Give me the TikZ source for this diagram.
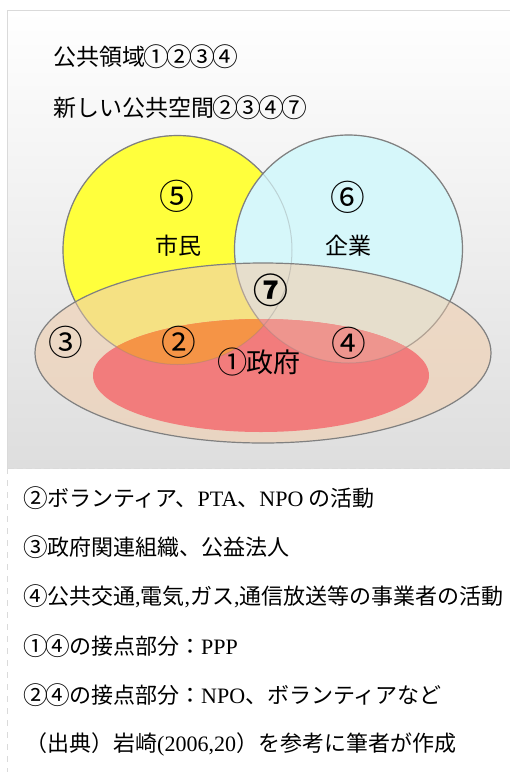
\documentclass[tikz,border=0pt]{standalone}
\usepackage{fontspec}
\setmainfont{Noto Sans CJK JP}
\newcommand{\cnone}[1]{\makebox[1em]{\raisebox{-0.05em}{\scalebox{1.12}{#1}}}}
\newcommand{\cn}[1]{\cnlist#1\relax}
\def\cnlist#1{\ifx#1\relax\else\cnone{#1}\expandafter\cnlist\fi}
\newfontfamily\latinserif{Liberation Serif}
\definecolor{yellowc}{HTML}{FFFF3C}
\definecolor{cyanc}{HTML}{D6F7FA}
\definecolor{tanc}{HTML}{F0CFB0}
\definecolor{redc}{HTML}{F27C7C}
\definecolor{orangec}{HTML}{F59446}
\definecolor{pinkc}{HTML}{EE958E}
\definecolor{edgec}{HTML}{808080}
\definecolor{framec}{HTML}{DADADA}
\begin{document}
\begin{tikzpicture}[x=1pt,y=-1pt,
  title/.style={anchor=west,inner sep=0pt,font=\fontsize{23}{26}\selectfont},
  biglab/.style={inner sep=0pt,font=\fontsize{31}{33}\selectfont},
  midlab/.style={inner sep=0pt,font=\fontsize{23}{26}\selectfont},
  note/.style={anchor=west,inner sep=0pt,font=\fontsize{22}{25}\selectfont},
  setedge/.style={draw=edgec,line width=1.2pt}]
\useasboundingbox (0,0) rectangle (510,772);
% panel background
\shade[top color=white,bottom color=black!13] (7.5,10) rectangle (510,468);
\draw[framec,line width=1pt] (7.5,468) -- (7.5,10) -- (510,10);
\draw[framec,line width=1pt,dash pattern=on 6pt off 3pt] (7.5,468) -- (510,468);
\draw[framec,line width=1pt,dash pattern=on 6pt off 6pt] (7.5,468) -- (7.5,772);
% sets
\coordinate (yc) at (177.5,250);
\coordinate (cc) at (348.5,249);
\coordinate (oc) at (263,353);
\coordinate (rc) at (261,375.5);
\filldraw[fill=yellowc,setedge] (yc) circle (114.5);
\filldraw[fill=cyanc,setedge] (cc) circle (114);
\fill[tanc,fill opacity=0.62] (oc) ellipse [x radius=228,y radius=90];
\fill[redc] (rc) ellipse [x radius=168,y radius=56.5];
\begin{scope}
  \clip (yc) circle (114.5);
  \fill[orangec] (rc) ellipse [x radius=168,y radius=56.5];
\end{scope}
\begin{scope}
  \clip (cc) circle (114);
  \fill[pinkc] (rc) ellipse [x radius=168,y radius=56.5];
\end{scope}
\draw[edgec,draw opacity=0.3,line width=1pt] (yc) circle (114.5);
\draw[edgec,draw opacity=0.3,line width=1pt] (cc) circle (114);
\draw[setedge] (oc) ellipse [x radius=228,y radius=90];
% titles
\node[title] (t1) at (53,57) {公共領域\cn{①②③④}};
\node[title] (t2) at (53,108) {新しい公共空間\cn{②③④⑦}};
% labels
\node[biglab] (n5) at (177,196) {\cn{⑤}};
\node[midlab] (shimin) at (178,246) {市民};
\node[biglab] (n6) at (348,197) {\cn{⑥}};
\node[midlab] (kigyo) at (348,246) {企業};
\node[biglab,font=\fontsize{31}{33}\selectfont\bfseries] (n7) at (271,290) {\cn{⑦}};
\node[biglab] (n3) at (66,342) {\cn{③}};
\node[biglab] (n2) at (179,342) {\cn{②}};
\node[biglab] (n4) at (349,343) {\cn{④}};
\node[inner sep=0pt,font=\fontsize{27}{30}\selectfont] (seifu) at (260,362) {\cn{①}政府};
% notes
\node[note] (l1) at (25,498) {\cn{②}ボランティア、{\latinserif PTA}、{\latinserif NPO} の活動};
\node[note] (l2) at (25,547) {\cn{③}政府関連組織、公益法人};
\node[note] (l3) at (25,596) {\cn{④}公共交通{\latinserif ,}電気{\latinserif ,}ガス{\latinserif ,}通信放送等の事業者の活動};
\node[note] (l4) at (25,646) {\cn{①④}の接点部分：{\latinserif PPP}};
\node[note] (l5) at (25,695) {\cn{②④}の接点部分：{\latinserif NPO}、ボランティアなど};
\node[note] (l6) at (25,744) {（出典）岩崎{\latinserif (2006,20}）を参考に筆者が作成};
\end{tikzpicture}
\end{document}
